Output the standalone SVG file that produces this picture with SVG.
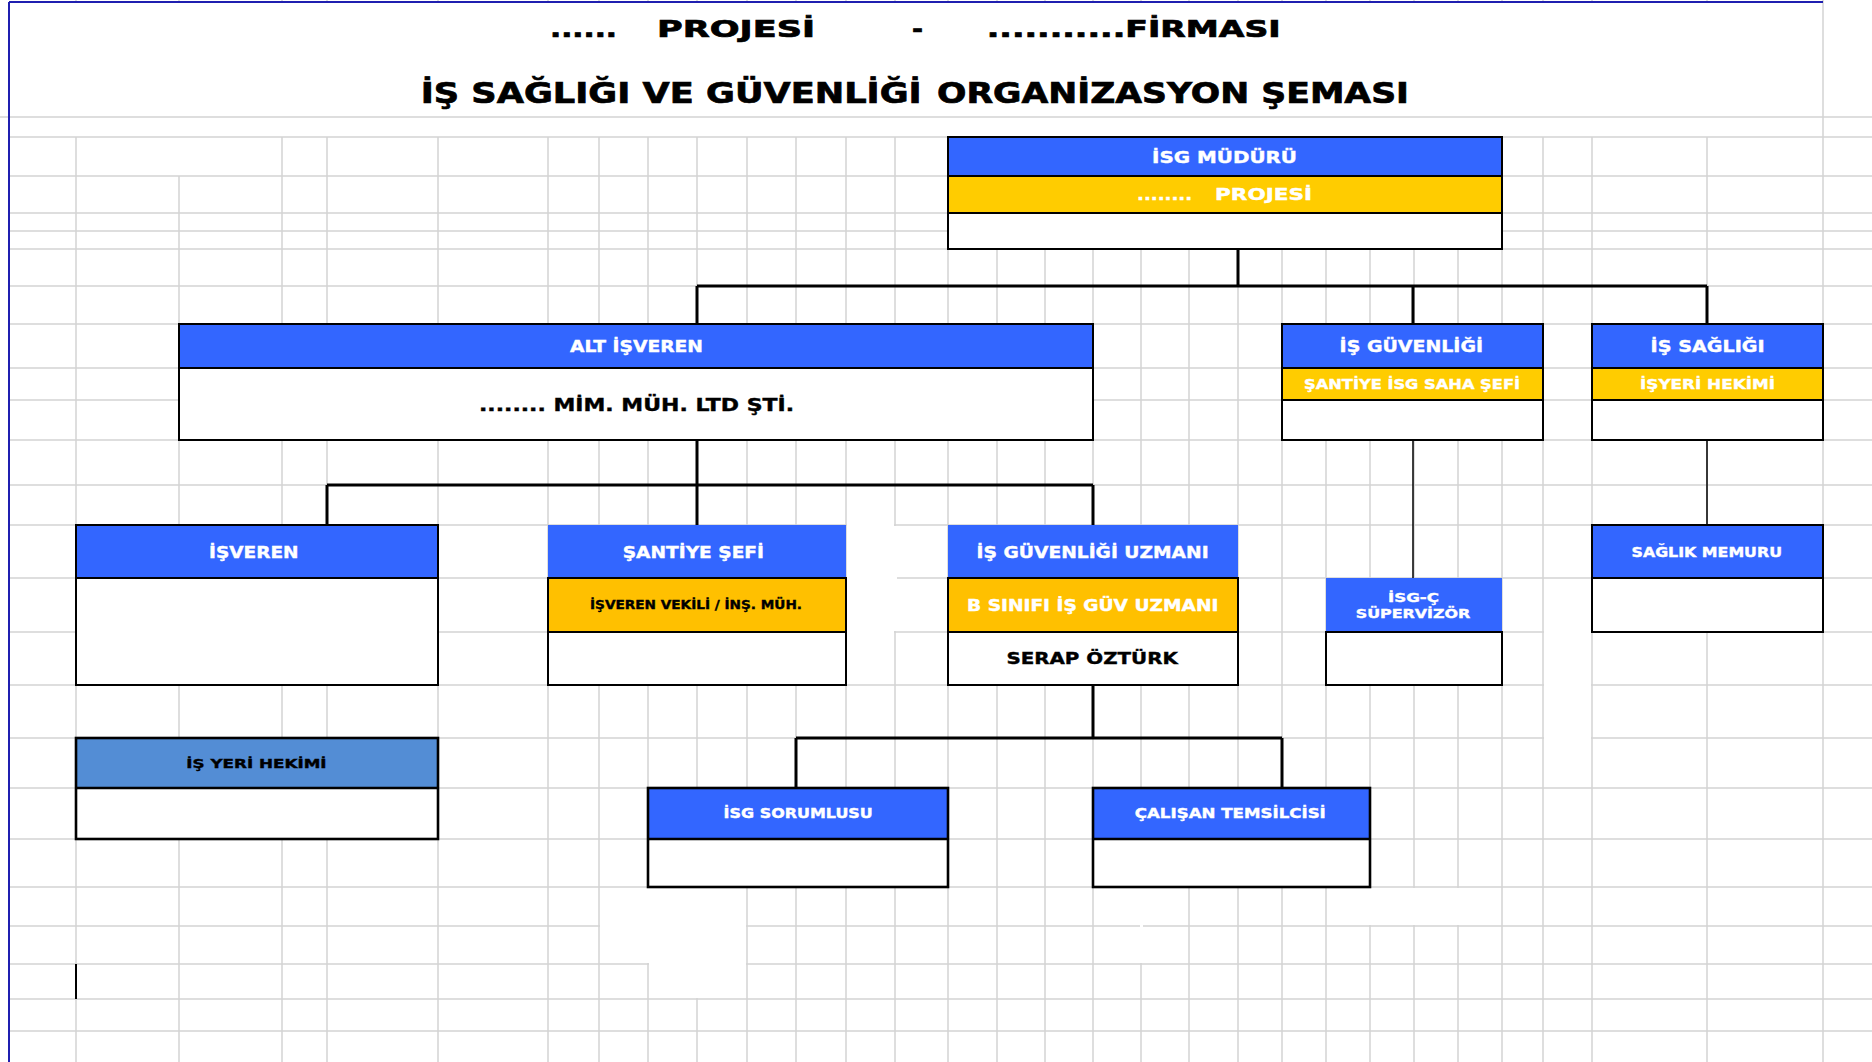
<svg xmlns="http://www.w3.org/2000/svg" width="1872" height="1062" viewBox="0 0 1872 1062">
<style>
.grid{stroke:#d4d4d4;stroke-width:1.5;fill:none}
.er{fill:#fff}
.hb{fill:#3366FF}
.hl{fill:#538DD5}
.y1{fill:#FFCC00}
.y2{fill:#FFC000}
.wb{fill:#fff}
.bd{fill:none;stroke:#000;stroke-width:2}
.bd3{fill:none;stroke:#000;stroke-width:2.6}
.ln{stroke:#000;stroke-width:2;fill:none}
.t{font-family:"DejaVu Sans","Liberation Sans",sans-serif;font-weight:bold;fill:#fff;stroke:#fff;stroke-width:0.4;white-space:pre}
.k{fill:#000;stroke:#000}
.ttl{stroke-width:0.7}
.conn{stroke:#000;stroke-width:3;fill:none}
.thin{stroke:#000;stroke-width:1.5;fill:none}
</style>
<rect width="1872" height="1062" fill="#fff"/>
<g id="grid">
<path class="grid" d="M0 117H1872M9 137H1872M9 176H1872M9 213H1872M9 231H1872M9 249H1872M9 286H1872M9 324H1872M9 368H1872M9 400H1872M9 440H1872M9 485H1872M9 525H1872M9 578H1872M9 632H1872M9 685H1872M9 738H1872M9 788H1872M9 839H1872M9 887H1872M9 926H1872M9 964H1872M9 999H1872M9 1031H1872"/>
<path class="grid" d="M76 137V1062M179 176V1062M282 137V1062M327 137V1062M438 137V1062M548 137V1062M599 137V1062M648 137V1062M697 137V1062M747 137V1062M796 137V1062M846 137V1062M895 137V1062M948 137V1062M997 137V1062M1045 137V1062M1093 137V1062M1141 137V1062M1189 137V1062M1238 137V1062M1282 137V1062M1326 137V1062M1370 137V1062M1414 137V1062M1458 137V1062M1502 137V1062M1543 137V1062M1592 137V1062M1707 137V1062M1823 0V1062"/>
<path class="grid" d="M76 0V2M179 0V2M282 0V2M327 0V2M438 0V2M548 0V2M599 0V2M648 0V2M697 0V2M747 0V2M796 0V2M846 0V2M895 0V2M948 0V2M997 0V2M1045 0V2M1093 0V2M1141 0V2M1189 0V2M1238 0V2M1282 0V2M1326 0V2M1370 0V2M1414 0V2M1458 0V2M1502 0V2M1543 0V2M1592 0V2M1707 0V2"/>
<rect class="er" x="847" y="487" width="47" height="197"/>
<rect class="er" x="893" y="526" width="4" height="105"/>
<rect class="er" x="1327" y="888" width="174" height="37"/>
<rect class="er" x="1140" y="888" width="3" height="75"/>
<rect class="er" x="600" y="888" width="146" height="75"/>
<rect class="er" x="649" y="962" width="97" height="36"/>
<rect class="er" x="1544" y="627" width="47" height="118"/>
<path d="M9 2H1823" stroke="#1f1fb0" stroke-width="2"/>
<path d="M9 2V1062" stroke="#1f1fb0" stroke-width="2"/>
<path d="M76 964V999" stroke="#000" stroke-width="2"/>
</g>
<g id="title">
<text class="t k ttl" y="37" font-size="23"><tspan x="550" textLength="67" lengthAdjust="spacingAndGlyphs">......</tspan>   <tspan x="657" textLength="158" lengthAdjust="spacingAndGlyphs">PROJESİ</tspan>        <tspan x="912" textLength="11" lengthAdjust="spacingAndGlyphs">-</tspan>      <tspan x="986.7" textLength="294" lengthAdjust="spacingAndGlyphs">...........FİRMASI</tspan></text>
<text class="t k ttl" y="103" font-size="28"><tspan x="420.7" textLength="501" lengthAdjust="spacingAndGlyphs">İŞ SAĞLIĞI VE GÜVENLİĞİ</tspan>  <tspan x="937" textLength="472" lengthAdjust="spacingAndGlyphs">ORGANİZASYON ŞEMASI</tspan></text>
</g>
<g id="connectors">
<path class="conn" d="M1238 249V286M697 286H1707M697 286V324M1413 286V324M1707 286V324"/>
<path class="conn" d="M697 440V525M327 485H1093M327 485V525M1093 485V525"/>
<path class="conn" d="M1093 685V738M796 738H1282M796 738V788M1282 738V788"/>
<path class="thin" d="M1413 440V578M1707 440V525"/>
</g>
<g id="isg-muduru">
<rect class="hb" x="948" y="137" width="554" height="39"/>
<rect class="y1" x="948" y="176" width="554" height="37"/>
<rect class="wb" x="948" y="213" width="554" height="36"/>
<path class="ln" d="M948 176H1502M948 213H1502"/>
<rect class="bd" x="948" y="137" width="554" height="112"/>
<text class="t" x="1152" y="163" font-size="16" textLength="145" lengthAdjust="spacingAndGlyphs">İSG MÜDÜRÜ</text>
<text class="t" y="200" font-size="16"><tspan x="1137" textLength="55" lengthAdjust="spacingAndGlyphs">........</tspan>   <tspan x="1215" textLength="97" lengthAdjust="spacingAndGlyphs">PROJESİ</tspan></text>
</g>
<g id="alt-isveren">
<rect class="hb" x="179" y="324" width="914" height="44"/>
<rect class="wb" x="179" y="368" width="914" height="72"/>
<path class="ln" d="M179 368H1093"/>
<rect class="bd" x="179" y="324" width="914" height="116"/>
<text class="t" x="570" y="352" font-size="16" textLength="133" lengthAdjust="spacingAndGlyphs">ALT İŞVEREN</text>
<text class="t k" x="479" y="411" font-size="17.5" textLength="315" lengthAdjust="spacingAndGlyphs">........ MİM. MÜH. LTD ŞTİ.</text>
</g>
<g id="is-guvenligi">
<rect class="hb" x="1282" y="324" width="261" height="44"/>
<rect class="y1" x="1282" y="368" width="261" height="32"/>
<rect class="wb" x="1282" y="400" width="261" height="40"/>
<path class="ln" d="M1282 368H1543M1282 400H1543"/>
<rect class="bd" x="1282" y="324" width="261" height="116"/>
<text class="t" x="1339.6" y="352" font-size="16" textLength="143.4" lengthAdjust="spacingAndGlyphs">İŞ GÜVENLİĞİ</text>
<text class="t" x="1304" y="389.3" font-size="14" textLength="216" lengthAdjust="spacingAndGlyphs">ŞANTİYE İSG SAHA ŞEFİ</text>
</g>
<g id="is-sagligi">
<rect class="hb" x="1592" y="324" width="231" height="44"/>
<rect class="y1" x="1592" y="368" width="231" height="32"/>
<rect class="wb" x="1592" y="400" width="231" height="40"/>
<path class="ln" d="M1592 368H1823M1592 400H1823"/>
<rect class="bd" x="1592" y="324" width="231" height="116"/>
<text class="t" x="1650.6" y="352" font-size="16" textLength="114" lengthAdjust="spacingAndGlyphs">İŞ SAĞLIĞI</text>
<text class="t" x="1640" y="389.3" font-size="14" textLength="135" lengthAdjust="spacingAndGlyphs">İŞYERİ HEKİMİ</text>
</g>
<g id="isveren">
<rect class="hb" x="76" y="525" width="362" height="53"/>
<rect class="wb" x="76" y="578" width="362" height="107"/>
<path class="ln" d="M76 578H438"/>
<rect class="bd" x="76" y="525" width="362" height="160"/>
<text class="t" x="209" y="558.3" font-size="16" textLength="89.5" lengthAdjust="spacingAndGlyphs">İŞVEREN</text>
</g>
<g id="santiye-sefi">
<rect class="hb" x="548" y="525" width="298" height="53"/>
<rect class="y2" x="548" y="578" width="298" height="54"/>
<rect class="wb" x="548" y="632" width="298" height="53"/>
<path class="ln" d="M548 632H846"/>
<rect class="bd" x="548" y="578" width="298" height="107"/>
<text class="t" x="622.7" y="558.3" font-size="16" textLength="141.3" lengthAdjust="spacingAndGlyphs">ŞANTİYE ŞEFİ</text>
<text class="t k" x="590" y="609" font-size="12.5" textLength="212" lengthAdjust="spacingAndGlyphs">İŞVEREN VEKİLİ / İNŞ. MÜH.</text>
</g>
<g id="is-guvenligi-uzmani">
<rect class="hb" x="948" y="525" width="290" height="53"/>
<rect class="y2" x="948" y="578" width="290" height="54"/>
<rect class="wb" x="948" y="632" width="290" height="53"/>
<path class="ln" d="M948 632H1238"/>
<rect class="bd" x="948" y="578" width="290" height="107"/>
<text class="t" x="976.6" y="558.3" font-size="16" textLength="232" lengthAdjust="spacingAndGlyphs">İŞ GÜVENLİĞİ UZMANI</text>
<text class="t" x="967" y="611" font-size="15" textLength="251.4" lengthAdjust="spacingAndGlyphs">B SINIFI İŞ GÜV UZMANI</text>
<text class="t k" x="1006.4" y="664" font-size="16.5" textLength="171.4" lengthAdjust="spacingAndGlyphs">SERAP ÖZTÜRK</text>
</g>
<g id="isg-c-supervizor">
<rect class="hb" x="1326" y="578" width="176" height="54"/>
<rect class="wb" x="1326" y="632" width="176" height="53"/>
<rect class="bd" x="1326" y="632" width="176" height="53"/>
<text class="t" x="1388" y="601.7" font-size="13" textLength="51" lengthAdjust="spacingAndGlyphs">İSG-Ç</text>
<text class="t" x="1355.7" y="617.7" font-size="13" textLength="114.6" lengthAdjust="spacingAndGlyphs">SÜPERVİZÖR</text>
</g>
<g id="saglik-memuru">
<rect class="hb" x="1592" y="525" width="231" height="53"/>
<rect class="wb" x="1592" y="578" width="231" height="54"/>
<path class="ln" d="M1592 578H1823"/>
<rect class="bd" x="1592" y="525" width="231" height="107"/>
<text class="t" x="1631.5" y="556.7" font-size="14" textLength="150.5" lengthAdjust="spacingAndGlyphs">SAĞLIK MEMURU</text>
</g>
<g id="is-yeri-hekimi">
<rect class="hl" x="76" y="738" width="362" height="50"/>
<rect class="wb" x="76" y="788" width="362" height="51"/>
<path class="bd3" d="M76 788H438"/>
<rect class="bd3" x="76" y="738" width="362" height="101"/>
<text class="t k" x="186.3" y="767.7" font-size="13" textLength="140.3" lengthAdjust="spacingAndGlyphs">İŞ YERİ HEKİMİ</text>
</g>
<g id="isg-sorumlusu">
<rect class="hb" x="648" y="788" width="300" height="51"/>
<rect class="wb" x="648" y="839" width="300" height="48"/>
<path class="bd3" d="M648 839H948"/>
<rect class="bd3" x="648" y="788" width="300" height="99"/>
<text class="t" x="723.6" y="818" font-size="14" textLength="149.2" lengthAdjust="spacingAndGlyphs">İSG SORUMLUSU</text>
</g>
<g id="calisan-temsilcisi">
<rect class="hb" x="1093" y="788" width="277" height="51"/>
<rect class="wb" x="1093" y="839" width="277" height="48"/>
<path class="bd3" d="M1093 839H1370"/>
<rect class="bd3" x="1093" y="788" width="277" height="99"/>
<text class="t" x="1134.8" y="818" font-size="14" textLength="191" lengthAdjust="spacingAndGlyphs">ÇALIŞAN TEMSİLCİSİ</text>
</g>
</svg>
